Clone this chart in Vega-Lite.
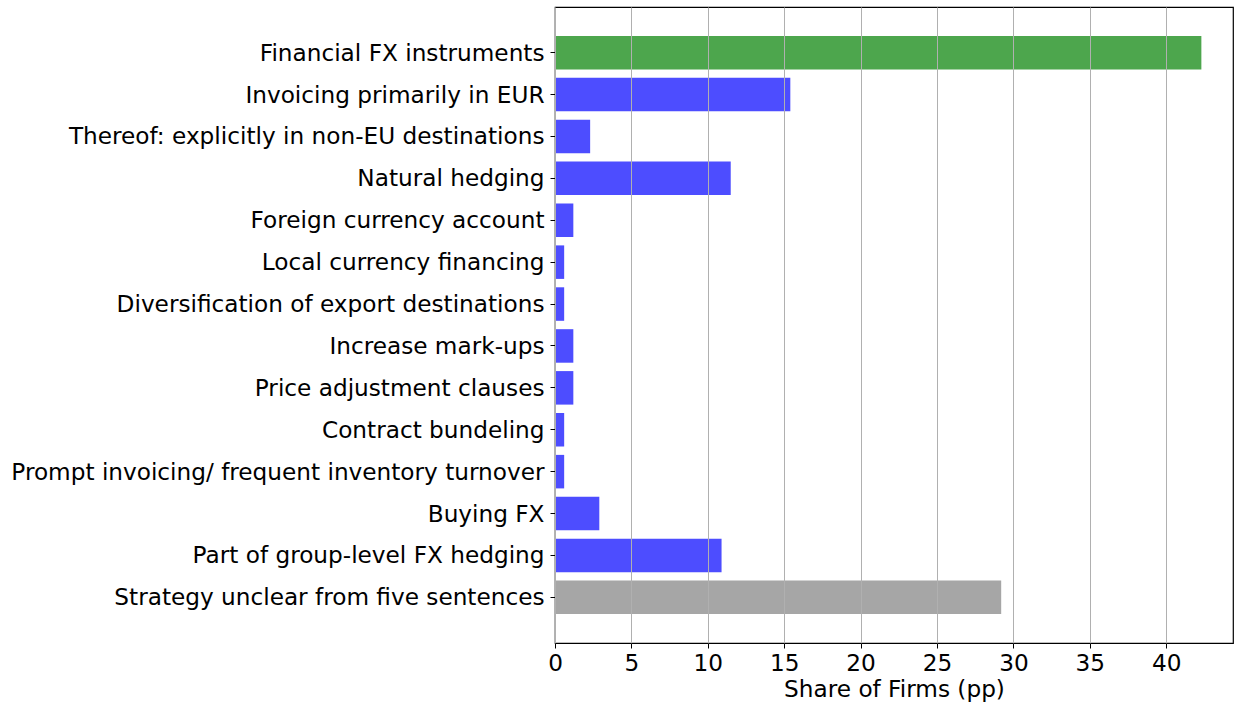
{
  "$schema": "https://vega.github.io/schema/vega-lite/v6.json",
  "width": 678,
  "height": 636,
  "autosize": {"type": "none"},
  "padding": {"left": 555, "top": 7, "right": 2, "bottom": 66},
  "background": "white",
  "config": {
    "view": {"stroke": "black", "strokeWidth": 1.2},
    "font": "DejaVu Sans"
  },
  "data": {
    "values": [
      {"strategy": "Financial FX instruments", "share": 42.3, "group": "financial"},
      {"strategy": "Invoicing primarily in EUR", "share": 15.4, "group": "operational"},
      {"strategy": "Thereof: explicitly in non-EU destinations", "share": 2.3, "group": "operational"},
      {"strategy": "Natural hedging", "share": 11.5, "group": "operational"},
      {"strategy": "Foreign currency account", "share": 1.2, "group": "operational"},
      {"strategy": "Local currency financing", "share": 0.6, "group": "operational"},
      {"strategy": "Diversification of export destinations", "share": 0.6, "group": "operational"},
      {"strategy": "Increase mark-ups", "share": 1.2, "group": "operational"},
      {"strategy": "Price adjustment clauses", "share": 1.2, "group": "operational"},
      {"strategy": "Contract bundeling", "share": 0.6, "group": "operational"},
      {"strategy": "Prompt invoicing/ frequent inventory turnover", "share": 0.6, "group": "operational"},
      {"strategy": "Buying FX", "share": 2.9, "group": "operational"},
      {"strategy": "Part of group-level FX hedging", "share": 10.9, "group": "operational"},
      {"strategy": "Strategy unclear from five sentences", "share": 29.2, "group": "unclear"}
    ]
  },
  "mark": {"type": "bar"},
  "encoding": {
    "y": {
      "field": "strategy",
      "type": "nominal",
      "sort": null,
      "scale": {"paddingInner": 0.2, "paddingOuter": 0.69},
      "axis": {
        "title": null,
        "labelFont": "DejaVu Sans",
        "labelFontSize": 23.2,
        "labelColor": "black",
        "labelLimit": 700,
        "labelPadding": 6,
        "labelOffset": 1,
        "tickColor": "black",
        "tickSize": 5,
        "domain": false,
        "grid": false
      }
    },
    "x": {
      "field": "share",
      "type": "quantitative",
      "scale": {"domain": [0, 44.37], "nice": false},
      "axis": {
        "title": "Share of Firms (pp)",
        "titleFont": "DejaVu Sans",
        "titleFontSize": 23.2,
        "titleFontWeight": "normal",
        "titleColor": "black",
        "titlePadding": 4,
        "values": [0, 5, 10, 15, 20, 25, 30, 35, 40],
        "labelFont": "DejaVu Sans",
        "labelFontSize": 23.2,
        "labelColor": "black",
        "labelPadding": 4,
        "labelFlush": false,
        "tickColor": "black",
        "tickSize": 5,
        "domain": false,
        "grid": true,
        "gridColor": "#b0b0b0",
        "gridWidth": 1,
        "zindex": 1
      }
    },
    "color": {
      "field": "group",
      "type": "nominal",
      "scale": {
        "domain": ["financial", "operational", "unclear"],
        "range": ["#4da64d", "#4d4dff", "#a6a6a6"]
      },
      "legend": null
    }
  }
}
